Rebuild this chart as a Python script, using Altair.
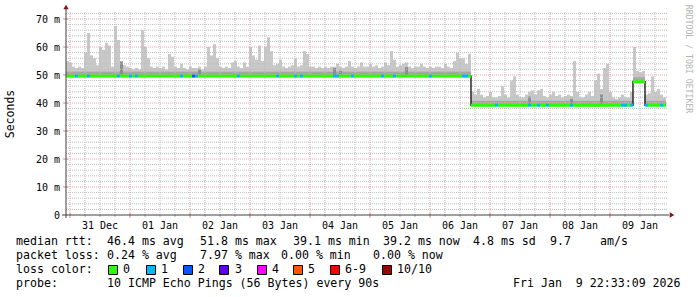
import altair as alt
import pandas as pd

# ---------------- data ----------------
# time axis: hours relative to 2026-01-01 00:00
T_START = -25.6
T_END = 215.2
BUCKET_H = 1.2

# top of the smoke (max ping) per bucket, ms
SMOKE_TOP = [
    55, 54.5, 53, 52.5, 53, 52.5, 58, 65, 57, 56,
    53.5, 60, 59, 61.5, 60.5, 53, 67.5, 62.5, 55, 53.5,
    53, 52.5, 52, 52.5, 52, 66, 60, 56, 53, 52.5,
    53, 52.5, 53, 52, 57.5, 56.5, 53, 52.5, 54, 52.5,
    52, 53, 52.5, 52.5, 53, 52, 53, 60, 57, 61,
    56, 53, 52.5, 53, 52.5, 54.5, 55, 53, 52.5, 54.5,
    53, 60, 57, 55.5, 60.5, 55, 60, 63.5, 58.5, 53.5,
    54, 55.5, 53, 52.5, 53, 53.5, 56, 53, 53.5, 58.5,
    57.5, 53, 53, 52.5, 53, 52.5, 53, 52.5, 53, 53,
    54, 53, 52.5, 53, 55, 53, 52.5, 53, 54.5, 53,
    53, 54, 53, 53.5, 52.5, 53, 54.5, 53.5, 58.5, 55.5,
    53, 53.5, 54, 54.5, 53, 52.5, 53, 53, 54, 53,
    52.5, 53, 52.5, 53, 53, 52.5, 54, 53, 52.5, 55,
    58, 56, 56, 54, 57.5, 44, 43, 45, 43, 42,
    42.5, 44, 42, 42, 42.5, 46, 43, 42, 48, 49.5,
    43, 42, 42, 43, 44, 44.5, 43, 44.5, 45, 42.5,
    42, 43, 44, 42.5, 43, 42, 42.5, 43, 42.5, 55,
    44, 42, 42, 43, 44, 42.5, 48, 50.5, 45, 52.5,
    54, 44, 42, 41.5, 42, 43, 42, 42, 44, 60,
    51.5, 51, 51.5, 43, 43.5, 49.5, 44, 45, 43, 42,
]

# median rtt levels and the bucket where each level begins
MEDIAN_LEVELS = [49.6, 39.2, 47.6, 39.2]
MEDIAN_FROM = [0, 135, 189, 193]
MID_OFFSET = 1.6

# buckets with packet loss (count of lost pings)
LOSS_BUCKETS = [3, 7, 17, 21, 23, 38, 42, 43, 57, 70, 76, 78, 89, 90, 95,
                105, 109, 121, 132, 133, 143, 154, 157, 160, 168, 185, 186,
                188, 193, 198]
LOSS_COUNTS = [1, 1, 1, 1, 1, 1, 2, 1, 1, 1, 1, 1, 1, 1, 1,
               1, 1, 1, 1, 1, 1, 1, 1, 1, 1, 1, 1,
               1, 1, 1]

# darker smoke patches
DARK_BUCKETS = [18, 44, 89, 91, 113, 154, 168, 178]
DARK_TOPS = [54.8, 52, 52.5, 51.5, 52.8, 42.3, 41.5, 43]

DAY_LABELS = ["31 Dec", "01 Jan", "02 Jan", "03 Jan", "04 Jan",
              "05 Jan", "06 Jan", "07 Jan", "08 Jan", "09 Jan"]
DAY_NOON_H = [-12, 12, 36, 60, 84, 108, 132, 156, 180, 204]

Y_TICKS = [0, 10, 20, 30, 40, 50, 60, 70]
Y_TICK_LABELS = ["0\u00a0\u00a0", "10 m", "20 m", "30 m", "40 m", "50 m", "60 m", "70 m"]

LOSS_NAMES = ["0", "1", "2", "3", "4", "5", "6-9", "10/10"]
LOSS_COLORS = ["#26ff00", "#00b8ff", "#0059ff", "#5e00ff",
               "#ff00ff", "#ff5500", "#ff0000", "#a10000"]

LEGEND_LINES = [
    ["median rtt:", "46.4 ms avg", "51.8 ms max", "39.1 ms min",
     "39.2 ms now", "4.8 ms sd", "9.7", "am/s"],
    ["packet loss:", "0.24 % avg", "7.97 % max", "0.00 % min", "0.00 % now"],
    ["loss color:"],
    ["probe:", "10 ICMP Echo Pings (56 Bytes) every 90s",
     "Fri Jan\u00a0\u00a09 22:33:09 2026"],
]

# ---------------- layout ----------------
PL, PT = 66, 12          # plot origin in the page
W, H = 602, 203
LEGEND_X = [[16, 107, 200, 293, 383, 473, 550, 600],
            [16, 107, 200, 281, 373],
            [16],
            [16, 107, 513]]
LEGEND_BASE = [245, 259, 273, 286.8]
SQ_X = [108, 146, 183, 219, 257, 293, 330, 382]
SQ_LABEL_X = [123, 161, 198, 235, 272, 308, 345, 397]
MONO = "DejaVu Sans Mono"

# ---------------- tables ----------------
loss_map = dict(zip(LOSS_BUCKETS, LOSS_COUNTS))
rows = []
for i, top in enumerate(SMOKE_TOP):
    lvl = 0
    for k, b in enumerate(MEDIAN_FROM):
        if i >= b:
            lvl = k
    med = MEDIAN_LEVELS[lvl]
    t0 = T_START + i * BUCKET_H
    loss = loss_map.get(i, 0)
    cidx = loss if loss <= 5 else (6 if loss < 10 else 7)
    rows.append(dict(t0=t0, t1=t0 + BUCKET_H, med=med, top=top,
                     mid=med + MID_OFFSET, lo=med - 0.55, hi=med + 0.55,
                     col=LOSS_COLORS[cidx]))
df = pd.DataFrame(rows)
line_df = pd.concat([df[["t0", "med"]],
                     pd.DataFrame([dict(t0=df.t1.iloc[-1], med=df.med.iloc[-1])])])
dark_df = pd.DataFrame([dict(t0=df.t0[b], t1=df.t1[b], med=df.med[b], top=t)
                        for b, t in zip(DARK_BUCKETS, DARK_TOPS)])

vg = [h for h in range(-24, 215, 6)]
v_minor = pd.DataFrame({"h": [h for h in vg if h % 24 != 0]})
v_major = pd.DataFrame({"h": [h for h in vg if h % 24 == 0]})
hg = list(range(2, 73, 2))
h_minor = pd.DataFrame({"v": [v for v in hg if v % 10 != 0]})
h_major = pd.DataFrame({"v": [v for v in hg if v % 10 == 0]})

XS = alt.Scale(domain=[T_START, T_END], nice=False, zero=False)
YS = alt.Scale(domain=[0, 72.5], nice=False, zero=False)
X = lambda f: alt.X(f, type="quantitative", scale=XS, axis=None)
Y = lambda f: alt.Y(f, type="quantitative", scale=YS, axis=None)
one = pd.DataFrame({"a": [0]})

MINOR_C = "#bdbdbd"
MAJOR_C = "#e4a8a8"

layers = []
# smoke
layers.append(alt.Chart(df).mark_rect(color="#c8c8c8").encode(
    x=X("t0"), x2="t1", y=Y("med"), y2="top"))
layers.append(alt.Chart(df).mark_rect(color="#a6a6a6").encode(
    x=X("t0"), x2="t1", y=Y("med"), y2="mid"))
layers.append(alt.Chart(dark_df).mark_rect(color="#8e8e8e").encode(
    x=X("t0"), x2="t1", y=Y("med"), y2="top"))
# grid
layers.append(alt.Chart(v_minor).mark_rule(color=MINOR_C, strokeDash=[1, 1], strokeWidth=1).encode(
    x=X("h"), y=alt.value(0), y2=alt.value(H)))
layers.append(alt.Chart(h_minor).mark_rule(color=MINOR_C, strokeDash=[1, 1], strokeWidth=1).encode(
    y=Y("v"), x=alt.value(0), x2=alt.value(W)))
layers.append(alt.Chart(v_major).mark_rule(color=MAJOR_C, strokeDash=[1, 1], strokeWidth=1).encode(
    x=X("h"), y=alt.value(0), y2=alt.value(H)))
layers.append(alt.Chart(h_major).mark_rule(color=MAJOR_C, strokeDash=[1, 1], strokeWidth=1).encode(
    y=Y("v"), x=alt.value(0), x2=alt.value(W)))
# ticks on axes
layers.append(alt.Chart(v_minor).mark_rule(color="#b0b0b0").encode(
    x=X("h"), y=alt.value(H), y2=alt.value(H + 2)))
layers.append(alt.Chart(v_major).mark_rule(color="#d88c8c").encode(
    x=X("h"), y=alt.value(H - 2), y2=alt.value(H + 3)))
layers.append(alt.Chart(h_major).mark_rule(color="#d88c8c").encode(
    y=Y("v"), x=alt.value(-3), x2=alt.value(2)))
# median
layers.append(alt.Chart(line_df).mark_line(interpolate="step-after", color="#1c1c1c", strokeWidth=1.4).encode(
    x=X("t0"), y=Y("med")))
layers.append(alt.Chart(df).mark_rect().encode(
    x=X("t0"), x2="t1", y=Y("lo"), y2="hi", color=alt.Color("col:N", scale=None)))
# axes lines and arrows
layers.append(alt.Chart(one).mark_rule(color="#404040", strokeWidth=1).encode(
    x=alt.value(0), y=alt.value(-3), y2=alt.value(H + 3)))
layers.append(alt.Chart(one).mark_rule(color="#404040", strokeWidth=1).encode(
    x=alt.value(-4), x2=alt.value(W + 1), y=alt.value(H)))
layers.append(alt.Chart(one).mark_point(shape="triangle-up", filled=True, size=28, color="#8b1010", opacity=1).encode(
    x=alt.value(0), y=alt.value(-5)))
layers.append(alt.Chart(one).mark_point(shape="triangle-right", filled=True, size=28, color="#8b1010", opacity=1).encode(
    x=alt.value(W + 4), y=alt.value(H)))
# axis labels
xl = pd.DataFrame({"h": DAY_NOON_H, "t": DAY_LABELS})
layers.append(alt.Chart(xl).mark_text(font=MONO, fontSize=10, align="center", baseline="alphabetic", color="black").encode(
    x=X("h"), y=alt.value(228.5 - PT), text="t:N"))
yl = pd.DataFrame({"v": Y_TICKS, "t": Y_TICK_LABELS})
layers.append(alt.Chart(yl).mark_text(font=MONO, fontSize=10, align="right", baseline="alphabetic", dy=3.7, color="black").encode(
    y=Y("v"), x=alt.value(60 - PL), text="t:N"))
# titles
layers.append(alt.Chart(one).mark_text(font=MONO, fontSize=11.5, angle=270, align="center", baseline="middle", color="black").encode(
    x=alt.value(10.5 - PL), y=alt.value(114 - PT), text=alt.value("Seconds")))
layers.append(alt.Chart(one).mark_text(font=MONO, fontSize=8.2, angle=90, align="center", baseline="middle", color="#b4b4b4").encode(
    x=alt.value(688 - PL), y=alt.value(59 - PT), text=alt.value("RRDTOOL / TOBI OETIKER")))
# legend text
for segs, xs, base in zip(LEGEND_LINES, LEGEND_X, LEGEND_BASE):
    for s, x in zip(segs, xs):
        layers.append(alt.Chart(one).mark_text(font=MONO, fontSize=11.6, align="left", baseline="alphabetic", color="black").encode(
            x=alt.value(x - PL), y=alt.value(base - PT), text=alt.value(s)))
# loss colour squares
for name, col, sx, lx in zip(LOSS_NAMES, LOSS_COLORS, SQ_X, SQ_LABEL_X):
    layers.append(alt.Chart(one).mark_rect(fill=col, stroke="black", strokeWidth=1).encode(
        x=alt.value(sx - PL + 0.5), x2=alt.value(sx - PL + 9.5),
        y=alt.value(265.5 - PT), y2=alt.value(274.5 - PT)))
    layers.append(alt.Chart(one).mark_text(font=MONO, fontSize=11.6, align="left", baseline="alphabetic", color="black").encode(
        x=alt.value(lx - PL), y=alt.value(LEGEND_BASE[2] - PT), text=alt.value(name)))

chart = alt.layer(*layers).properties(
    width=W, height=H,
    padding={"left": PL, "top": PT, "right": 697 - PL - W, "bottom": 297 - PT - H},
    autosize=alt.AutoSizeParams(type="none"),
    background="white",
).configure_view(stroke=None)

chart.save("out.html", embed_options={"renderer": "svg", "actions": False})
